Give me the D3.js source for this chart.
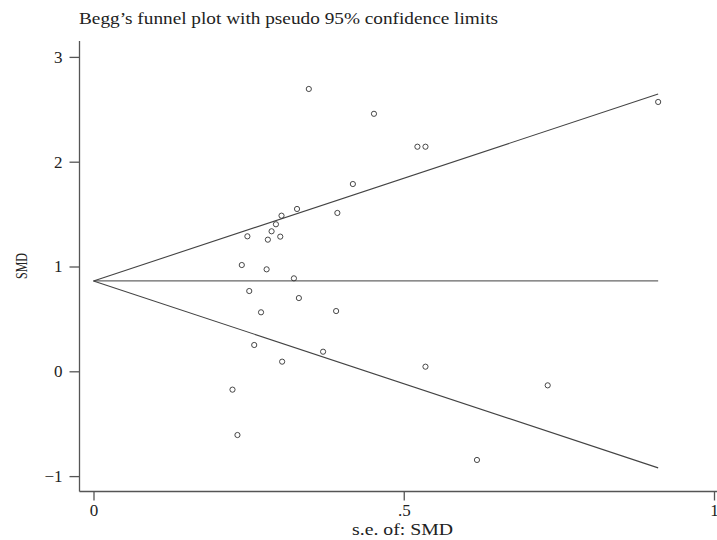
<!DOCTYPE html>
<html lang="en">
<head>
    <meta charset="UTF-8">
    <title>Begg's funnel plot</title>
    <script src="https://d3js.org/d3.v7.min.js"></script>
    <style>
        body {
            margin: 0;
            background: #fff;
        }
        text {
            fill: #222;
        }
    </style>
</head>
<body>
    <svg id="chart" width="717" height="540"></svg>

    <script>
        // study points: standard error and SMD
        let seValues = [0.347, 0.452, 0.522, 0.535, 0.910, 0.418, 0.328, 0.393, 0.303, 0.294,
            0.287, 0.248, 0.301, 0.281, 0.239, 0.279, 0.323, 0.251, 0.331, 0.270,
            0.391, 0.259, 0.370, 0.304, 0.224, 0.232, 0.732, 0.618, 0.535];
        let smdValues = [2.694, 2.457, 2.143, 2.143, 2.570, 1.787, 1.549, 1.511, 1.485, 1.403,
            1.336, 1.288, 1.285, 1.256, 1.014, 0.973, 0.887, 0.766, 0.699, 0.563,
            0.575, 0.251, 0.187, 0.092, -0.175, -0.608, -0.134, -0.846, 0.044];

        let pooled = 0.862;     // horizontal line
        let zCrit = 1.96;       // pseudo 95% limits
        let xTicks = [0, 0.5, 1];
        let xTickLabels = ['0', '.5', '1'];
        let yTicks = [-1, 0, 1, 2, 3];
        let yTickLabels = ['\u22121', '0', '1', '2', '3'];

        let svg = d3.select('#chart');

        let x = d3.scaleLinear().domain([0, 1]).range([93.5, 714]);
        let y = d3.scaleLinear().domain([-1, 3]).range([476.1, 56.9]);

        let axisColor = '#555';
        let tickFont = '"Liberation Serif", serif';
        let labelFont = '"Liberation Serif", serif';

        // title
        svg.append('text')
            .attr('x', 79).attr('y', 24)
            .attr('textLength', 419).attr('lengthAdjust', 'spacingAndGlyphs')
            .style('font-family', labelFont).style('font-size', '16px')
            .text('Begg\u2019s funnel plot with pseudo 95% confidence limits');

        // axes
        let yAxis = d3.axisLeft(y).tickValues(yTicks).tickSize(10).tickPadding(7)
            .tickFormat((d, i) => yTickLabels[i]);
        let gy = svg.append('g').attr('transform', 'translate(79.5,0)').call(yAxis);
        gy.select('.domain').remove();

        let xAxis = d3.axisBottom(x).tickValues(xTicks).tickSize(9).tickPadding(3)
            .tickFormat((d, i) => xTickLabels[i]);
        let gx = svg.append('g').attr('transform', 'translate(0,491.5)').call(xAxis);
        gx.select('.domain').remove();

        [gx, gy].forEach(g => {
            g.selectAll('line').attr('stroke', axisColor).attr('stroke-width', 1.3);
            g.selectAll('text').style('font-family', tickFont).style('font-size', '17px').attr('fill', '#222');
        });

        svg.append('line')
            .attr('x1', 79.5).attr('x2', 79.5).attr('y1', 41).attr('y2', 491.5)
            .attr('stroke', axisColor).attr('stroke-width', 1.3);
        svg.append('line')
            .attr('x1', 79.5).attr('x2', 717).attr('y1', 491.5).attr('y2', 491.5)
            .attr('stroke', axisColor).attr('stroke-width', 1.3);

        // axis titles
        svg.append('text')
            .attr('transform', 'translate(27,266) rotate(-90)')
            .attr('text-anchor', 'middle')
            .attr('textLength', 26).attr('lengthAdjust', 'spacingAndGlyphs')
            .style('font-family', labelFont).style('font-size', '16px')
            .text('SMD');
        svg.append('text')
            .attr('x', 352).attr('y', 535)
            .attr('textLength', 101).attr('lengthAdjust', 'spacingAndGlyphs')
            .style('font-family', labelFont).style('font-size', '16px')
            .text('s.e. of: SMD');

        // pooled line and pseudo confidence limits
        let seMax = d3.max(seValues);
        let lineColor = '#444';
        svg.append('line')
            .attr('x1', x(0)).attr('y1', y(pooled))
            .attr('x2', x(seMax)).attr('y2', y(pooled))
            .attr('stroke', '#666').attr('stroke-width', 1.2);
        [1, -1].forEach(s => {
            svg.append('line')
                .attr('x1', x(0)).attr('y1', y(pooled))
                .attr('x2', x(seMax)).attr('y2', y(pooled + s * zCrit * seMax))
                .attr('stroke', lineColor).attr('stroke-width', 1.1);
        });

        // study points
        svg.selectAll('circle.pt').data(seValues).enter().append('circle')
            .attr('class', 'pt')
            .attr('cx', d => x(d))
            .attr('cy', (d, i) => y(smdValues[i]))
            .attr('r', 2.6)
            .attr('fill', 'none')
            .attr('stroke', '#333')
            .attr('stroke-width', 0.9);
    </script>
</body>
</html>
